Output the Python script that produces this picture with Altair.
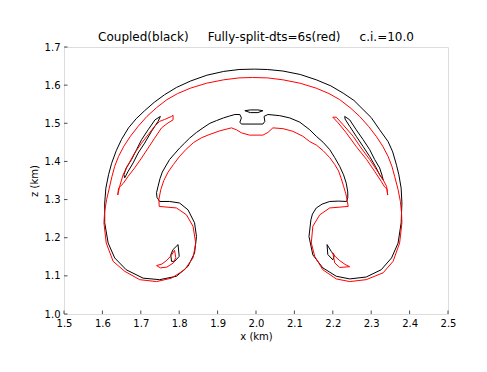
import altair as alt
import pandas as pd

# ---- data (x in km, z in km) ----
x_ticks = [1.5, 1.6, 1.7, 1.8, 1.9, 2.0, 2.1, 2.2, 2.3, 2.4, 2.5]
z_ticks = [1.0, 1.1, 1.2, 1.3, 1.4, 1.5, 1.6, 1.7]

black_main = [
    (1.996, 1.642), (1.956, 1.641), (1.916, 1.636), (1.872, 1.626), (1.830, 1.611), (1.793, 1.594),
    (1.762, 1.575), (1.735, 1.555), (1.710, 1.533), (1.688, 1.512), (1.668, 1.488), (1.650, 1.458),
    (1.636, 1.428), (1.624, 1.395), (1.616, 1.365), (1.609, 1.330), (1.606, 1.291), (1.606, 1.239),
    (1.615, 1.186), (1.632, 1.147), (1.662, 1.116), (1.706, 1.094), (1.749, 1.090), (1.793, 1.099),
    (1.823, 1.125), (1.840, 1.160), (1.845, 1.203), (1.840, 1.239), (1.823, 1.273), (1.801, 1.291),
    (1.775, 1.295), (1.749, 1.295), (1.742, 1.306), (1.741, 1.318), (1.745, 1.335), (1.750, 1.355),
    (1.756, 1.372), (1.765, 1.388), (1.775, 1.405), (1.788, 1.420), (1.801, 1.435), (1.814, 1.448),
    (1.827, 1.461), (1.845, 1.476), (1.862, 1.488), (1.880, 1.500), (1.897, 1.507), (1.915, 1.514),
    (1.931, 1.519), (1.945, 1.523), (1.958, 1.523), (1.962, 1.514), (1.958, 1.503), (1.962, 1.498),
    (2.018, 1.498), (2.023, 1.505), (2.021, 1.518), (2.031, 1.523), (2.062, 1.520), (2.088, 1.514),
    (2.114, 1.503), (2.140, 1.483), (2.157, 1.466), (2.175, 1.450), (2.192, 1.431), (2.205, 1.410),
    (2.218, 1.387), (2.228, 1.365), (2.235, 1.343), (2.239, 1.320), (2.239, 1.305), (2.236, 1.295),
    (2.215, 1.296), (2.192, 1.295), (2.172, 1.288), (2.157, 1.278), (2.147, 1.262), (2.143, 1.247),
    (2.138, 1.203), (2.148, 1.155), (2.174, 1.121), (2.209, 1.099), (2.244, 1.092), (2.287, 1.097),
    (2.326, 1.116), (2.353, 1.147), (2.370, 1.186), (2.378, 1.239), (2.380, 1.291), (2.378, 1.330),
    (2.372, 1.365), (2.366, 1.390), (2.356, 1.425), (2.344, 1.452), (2.322, 1.483), (2.300, 1.515),
    (2.279, 1.536), (2.255, 1.560), (2.227, 1.579), (2.195, 1.598), (2.157, 1.614), (2.115, 1.628),
    (2.070, 1.637), (2.030, 1.641), (1.996, 1.642),
]

red_main = [
    (1.991, 1.620), (1.956, 1.619), (1.916, 1.614), (1.871, 1.605), (1.829, 1.592), (1.796, 1.578),
    (1.768, 1.562), (1.741, 1.541), (1.716, 1.518), (1.693, 1.492), (1.673, 1.466), (1.656, 1.440),
    (1.642, 1.413), (1.632, 1.387), (1.625, 1.361), (1.618, 1.330), (1.611, 1.300), (1.606, 1.270),
    (1.604, 1.239), (1.610, 1.186), (1.628, 1.138), (1.658, 1.112), (1.697, 1.090), (1.741, 1.085),
    (1.780, 1.094), (1.814, 1.116), (1.836, 1.147), (1.843, 1.186), (1.836, 1.230), (1.819, 1.260),
    (1.793, 1.278), (1.748, 1.282), (1.747, 1.300), (1.752, 1.326), (1.760, 1.350), (1.771, 1.372),
    (1.785, 1.392), (1.800, 1.412), (1.818, 1.432), (1.838, 1.450), (1.858, 1.462), (1.880, 1.471),
    (1.905, 1.480), (1.936, 1.488), (1.949, 1.483), (1.962, 1.475), (1.983, 1.469), (2.018, 1.469),
    (2.031, 1.476), (2.044, 1.488), (2.070, 1.486), (2.096, 1.479), (2.122, 1.466), (2.140, 1.452),
    (2.157, 1.443), (2.175, 1.428), (2.192, 1.410), (2.205, 1.392), (2.215, 1.375), (2.222, 1.355),
    (2.228, 1.335), (2.234, 1.315), (2.238, 1.295), (2.240, 1.282), (2.192, 1.278), (2.166, 1.260),
    (2.148, 1.230), (2.144, 1.186), (2.153, 1.151), (2.174, 1.116), (2.209, 1.092), (2.244, 1.085),
    (2.287, 1.090), (2.331, 1.108), (2.357, 1.138), (2.374, 1.186), (2.380, 1.239), (2.379, 1.265),
    (2.376, 1.295), (2.370, 1.326), (2.361, 1.361), (2.354, 1.387), (2.344, 1.413), (2.330, 1.440),
    (2.313, 1.466), (2.293, 1.492), (2.270, 1.518), (2.245, 1.541), (2.218, 1.562), (2.190, 1.578),
    (2.157, 1.592), (2.115, 1.605), (2.070, 1.614), (2.030, 1.619), (1.991, 1.620),
]

black_sliver_left = [
    (1.751, 1.518), (1.737, 1.509), (1.719, 1.483), (1.702, 1.457), (1.689, 1.431), (1.676, 1.405),
    (1.662, 1.383), (1.656, 1.365), (1.658, 1.357), (1.667, 1.374), (1.680, 1.396), (1.693, 1.422),
    (1.710, 1.448), (1.728, 1.479), (1.745, 1.505), (1.751, 1.518),
]
red_sliver_left = [
    (1.784, 1.521), (1.780, 1.518), (1.762, 1.510), (1.749, 1.505), (1.736, 1.492), (1.719, 1.470),
    (1.702, 1.448), (1.684, 1.422), (1.667, 1.391), (1.654, 1.365), (1.645, 1.335), (1.640, 1.312),
    (1.642, 1.330), (1.654, 1.342), (1.667, 1.361), (1.684, 1.383), (1.702, 1.409), (1.719, 1.435),
    (1.736, 1.461), (1.754, 1.488), (1.771, 1.501), (1.784, 1.509), (1.784, 1.521),
]
black_sliver_right = [
    (2.231, 1.518), (2.244, 1.509), (2.261, 1.483), (2.279, 1.457), (2.296, 1.431), (2.309, 1.405),
    (2.322, 1.383), (2.329, 1.361), (2.331, 1.352), (2.322, 1.365), (2.311, 1.387), (2.296, 1.413),
    (2.279, 1.439), (2.261, 1.466), (2.244, 1.492), (2.232, 1.511), (2.231, 1.518),
]
red_sliver_right = [
    (2.200, 1.516), (2.209, 1.516), (2.227, 1.496), (2.253, 1.466), (2.274, 1.435), (2.296, 1.405),
    (2.314, 1.378), (2.331, 1.352), (2.340, 1.335), (2.343, 1.312), (2.341, 1.328), (2.335, 1.333),
    (2.326, 1.348), (2.309, 1.374), (2.288, 1.405), (2.261, 1.439), (2.235, 1.475), (2.214, 1.501),
    (2.200, 1.516),
]
black_lens_top = [
    (1.971, 1.533), (1.985, 1.535), (2.005, 1.535), (2.018, 1.533), (2.005, 1.528), (1.985, 1.528),
    (1.971, 1.533),
]
black_small_left = [
    (1.797, 1.182), (1.800, 1.151), (1.788, 1.138), (1.780, 1.138), (1.778, 1.155), (1.784, 1.169),
    (1.797, 1.182),
]
red_small_left = [
    (1.741, 1.127), (1.755, 1.131), (1.768, 1.141), (1.779, 1.153), (1.788, 1.167), (1.791, 1.148),
    (1.785, 1.134), (1.768, 1.123), (1.751, 1.121), (1.741, 1.127),
]
black_small_right = [
    (2.185, 1.182), (2.187, 1.156), (2.200, 1.142), (2.204, 1.153), (2.196, 1.164), (2.185, 1.182),
]
red_small_right = [
    (2.200, 1.160), (2.205, 1.134), (2.218, 1.122), (2.244, 1.124), (2.232, 1.130), (2.218, 1.140),
    (2.207, 1.150), (2.200, 1.160),
]

contours = {
    "black_main": ("black", black_main),
    "red_main": ("red", red_main),
    "black_sliver_left": ("black", black_sliver_left),
    "red_sliver_left": ("red", red_sliver_left),
    "black_sliver_right": ("black", black_sliver_right),
    "red_sliver_right": ("red", red_sliver_right),
    "black_lens_top": ("black", black_lens_top),
    "black_small_left": ("black", black_small_left),
    "red_small_left": ("red", red_small_left),
    "black_small_right": ("black", black_small_right),
    "red_small_right": ("red", red_small_right),
}

rows = []
for name, (col, pts) in contours.items():
    for i, (x, z) in enumerate(pts):
        rows.append({"id": name, "run": col, "x": x, "z": z, "order": i})
df = pd.DataFrame(rows)

FONT = "DejaVu Sans"
FRAME = "#4d4d4d"
W, H = 384, 267
TICK = 3.5

xscale = alt.Scale(domain=[1.5, 2.5], nice=False, zero=False)
zscale = alt.Scale(domain=[1.0, 1.7], nice=False, zero=False)

axis_common = dict(
    ticks=False, domain=False, grid=False, labelFlush=False,
    labelFont=FONT, labelFontSize=10, labelColor="black",
    titleFont=FONT, titleFontSize=10, titleFontWeight="normal", titleColor="black",
)
x_axis = alt.Axis(values=x_ticks, format=".1f", title="x (km)", labelPadding=4, titlePadding=3, **axis_common)
z_axis = alt.Axis(values=z_ticks, format=".1f", title="z (km)", labelPadding=4, titlePadding=5, **axis_common)

X = alt.X("x:Q", scale=xscale, axis=x_axis)
Z = alt.Y("z:Q", scale=zscale, axis=z_axis)

lines = alt.Chart(df).mark_line(strokeWidth=1.0, clip=True).encode(
    x=X,
    y=Z,
    color=alt.Color("run:N", scale=alt.Scale(domain=["black", "red"], range=["#000000", "#ff0000"]), legend=None),
    detail="id:N",
    order="order:Q",
)

xt = pd.DataFrame({"x": x_ticks})
zt = pd.DataFrame({"z": z_ticks})

# inward ticks on the bottom and left edges only
tick_b = alt.Chart(xt).mark_rule(color=FRAME, strokeWidth=1).encode(
    x=X, y=alt.value(H), y2=alt.value(H - TICK))
tick_l = alt.Chart(zt).mark_rule(color=FRAME, strokeWidth=1).encode(
    y=Z, x=alt.value(0), x2=alt.value(TICK))

sp = "\u00a0" * 5
title_text = f"Coupled(black){sp}Fully-split-dts=6s(red){sp}c.i.=10.0"

chart = alt.layer(lines, tick_b, tick_l).properties(
    width=W, height=H,
    title=alt.TitleParams(title_text, font=FONT, fontSize=12, fontWeight="normal", color="black",
                          anchor="middle", offset=6, baseline="alphabetic", dy=17),
    autosize=alt.AutoSizeParams(type="none"),
    padding={"left": 56, "top": 39, "right": 31, "bottom": 50},
).configure_view(stroke=FRAME, strokeWidth=1).configure(background="white")

chart.save("out.html", embed_options={"renderer": "svg", "actions": False})
